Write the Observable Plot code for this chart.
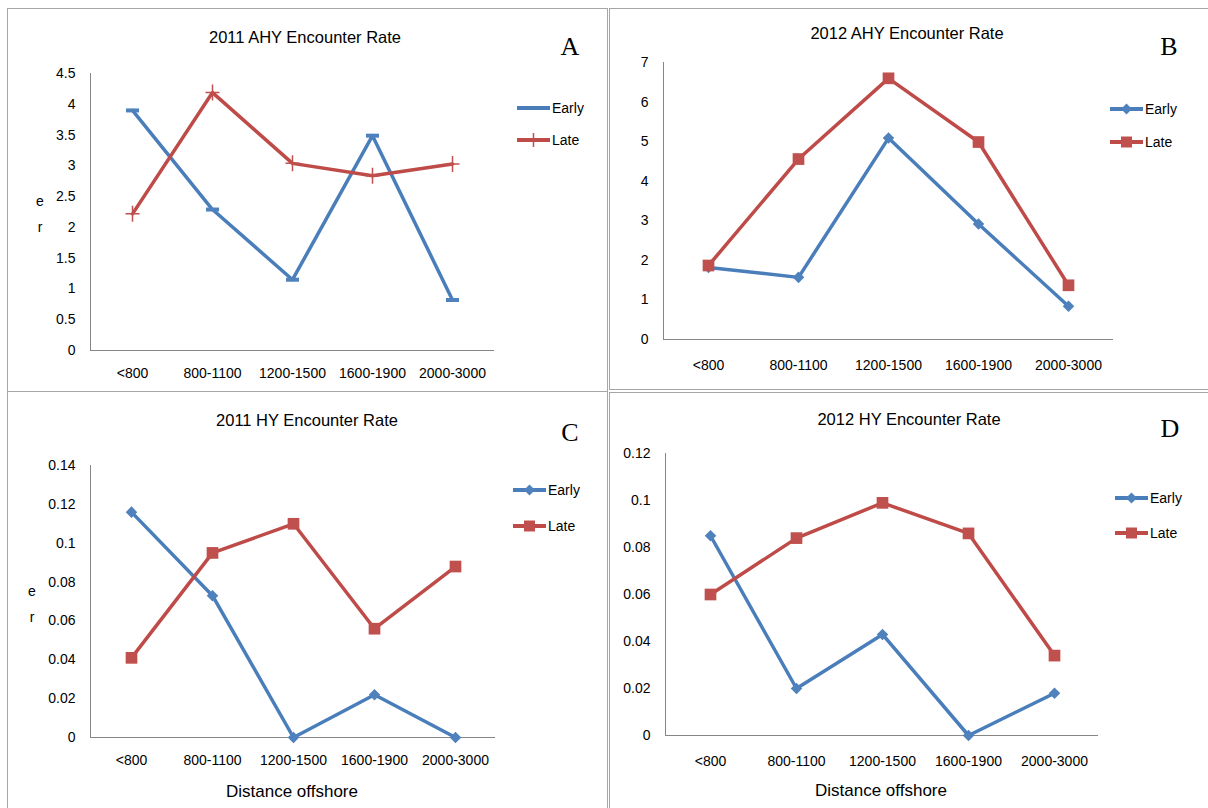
<!DOCTYPE html>
<html><head><meta charset="utf-8">
<script src="https://cdn.jsdelivr.net/npm/d3@7"></script>
<script src="https://cdn.jsdelivr.net/npm/@observablehq/plot@0.6"></script>
<style>
body{margin:0;background:#fff;}
#wrap{position:relative;width:1208px;height:808px;overflow:hidden;font-family:"Liberation Sans",Arial,sans-serif;color:#000;background:#fff;}
.box{position:absolute;border:1px solid #a6a6a6;box-sizing:border-box;z-index:3;}
.abs{position:absolute;white-space:nowrap;line-height:1;z-index:4;}
.c{transform:translate(-50%,-50%);}
.l{transform:translate(0,-50%);}
.plot{position:absolute;z-index:2;}
.leg{position:absolute;z-index:4;}
</style></head><body><div id="wrap"></div>
<script>
// ---- data ----
const categories = ["<800","800-1100","1200-1500","1600-1900","2000-3000"];
const seriesNames = ["Early","Late"];
const aEarly = [3.90,2.29,1.15,3.49,0.82];
const aLate  = [2.22,4.19,3.04,2.84,3.03];
const bEarly = [1.82,1.57,5.09,2.92,0.84];
const bLate  = [1.87,4.56,6.60,4.99,1.37];
const cEarly = [0.116,0.073,0,0.022,0];
const cLate  = [0.041,0.095,0.110,0.056,0.088];
const dEarly = [0.085,0.020,0.043,0,0.018];
const dLate  = [0.060,0.084,0.099,0.086,0.034];
const aTicks = [0,0.5,1,1.5,2,2.5,3,3.5,4,4.5];
const bTicks = [0,1,2,3,4,5,6,7];
const cTicks = [0,0.02,0.04,0.06,0.08,0.1,0.12,0.14];
const dTicks = [0,0.02,0.04,0.06,0.08,0.1,0.12];
const titles = ["2011 AHY Encounter Rate","2012 AHY Encounter Rate","2011 HY Encounter Rate","2012 HY Encounter Rate"];
const letters = ["A","B","C","D"];
const xTitle = "Distance offshore";
const yTitleLetters = ["e","r"];

// ---- styles ----
const BLUE_LINE = "#4a7ebb", BLUE = "#4f81bd";
const RED_LINE = "#be4b48", RED = "#c0504d";
const AXIS = "#868686";
const FONT = '"Liberation Sans", Arial, sans-serif';

const dashSym = {draw(ctx){ ctx.moveTo(-6.5,-2); ctx.lineTo(6.5,-2); ctx.lineTo(6.5,2); ctx.lineTo(-6.5,2); ctx.closePath(); }};
const plusSym = {draw(ctx){ ctx.moveTo(-7,0); ctx.lineTo(7,0); ctx.moveTo(0,-8); ctx.lineTo(0,8); }};

function rows(early, late){
  const out = [];
  categories.forEach((c,i)=>out.push({cat:c, series:seriesNames[0], v:early[i]}));
  categories.forEach((c,i)=>out.push({cat:c, series:seriesNames[1], v:late[i]}));
  return out;
}

const panels = [
  {early:aEarly, late:aLate, ticks:aTicks, max:4.5, style:"A",
   left:0, top:0, width:607, height:391, ml:90, mr:113, mt:73, mb:41, pad:18,
   title:[305,37], letter:[570,47], legX:517, legY:[108,140], er:[40,201,227], xt:null},
  {early:bEarly, late:bLate, ticks:bTicks, max:7, style:"B",
   left:607, top:0, width:601, height:391, ml:56, mr:95, mt:62, mb:52, pad:21,
   title:[907,33], letter:[1169,47], legX:1110, legY:[109,142], er:null, xt:null},
  {early:cEarly, late:cLate, ticks:cTicks, max:0.14, style:"B",
   left:0, top:391, width:607, height:417, ml:90, mr:112, mt:74, mb:71, pad:18,
   title:[307,420], letter:[570,433], legX:513, legY:[490,526], er:[32,591,617], xt:[292,791]},
  {early:dEarly, late:dLate, ticks:dTicks, max:0.12, style:"B",
   left:607, top:391, width:601, height:417, ml:58, mr:110, mt:62, mb:73, pad:21,
   title:[909,419], letter:[1170,429], legX:1115, legY:[498,533], er:null, xt:[881,790]}
];

const wrap = document.getElementById("wrap");
function addText(txt, x, y, css, cls="c"){
  const d = document.createElement("div");
  d.className = "abs " + cls;
  d.textContent = txt;
  d.style.left = x + "px"; d.style.top = y + "px";
  d.style.cssText += css;
  wrap.appendChild(d);
}

// panel borders
[[7,8,601,384],[609,8,610,382],[7,391,601,430],[609,392,610,430]].forEach(([l,t,w,h])=>{
  const b = document.createElement("div"); b.className="box";
  b.style.left=l+"px"; b.style.top=t+"px"; b.style.width=w+"px"; b.style.height=h+"px";
  wrap.appendChild(b);
});

panels.forEach((p, k)=>{
  const data = rows(p.early, p.late);
  const early = data.filter(d=>d.series===seriesNames[0]);
  const late = data.filter(d=>d.series===seriesNames[1]);
  const marks = [
    Plot.frame({anchor:"left", stroke:AXIS, strokeWidth:1}),
    Plot.ruleY([0], {stroke:AXIS, strokeWidth:1}),
    Plot.axisX({tickSize:0, tickPadding:p.pad, fontSize:14, label:null}),
    Plot.axisY({ticks:p.ticks, tickSize:0, tickPadding:15, fontSize:14, label:null, tickFormat:d=>String(d)}),
    Plot.line(early, {x:"cat", y:"v", stroke:BLUE_LINE, strokeWidth:3.5, strokeLinejoin:"round"}),
    Plot.line(late, {x:"cat", y:"v", stroke:RED_LINE, strokeWidth:3.5, strokeLinejoin:"round"})
  ];
  if (p.style === "A"){
    marks.push(Plot.dot(early, {x:"cat", y:"v", symbol:dashSym, r:4, fill:BLUE, stroke:"none"}));
    marks.push(Plot.dot(late, {x:"cat", y:"v", symbol:plusSym, r:4, fill:"none", stroke:RED, strokeWidth:1.5}));
  } else {
    marks.push(Plot.dot(early, {x:"cat", y:"v", symbol:"diamond2", r:5.2, fill:BLUE, stroke:"none"}));
    marks.push(Plot.dot(late, {x:"cat", y:"v", symbol:"square", r:6.6, fill:RED, stroke:"none"}));
  }
  const svg = Plot.plot({
    width:p.width, height:p.height,
    marginLeft:p.ml, marginRight:p.mr, marginTop:p.mt, marginBottom:p.mb,
    x:{type:"point", domain:categories, padding:0.5, label:null},
    y:{domain:[0,p.max], label:null},
    style:{background:"transparent", fontFamily:FONT, fontSize:"14px", color:"#000", overflow:"visible"},
    marks
  });
  svg.classList.add("plot");
  svg.style.left = p.left + "px"; svg.style.top = p.top + "px";
  svg.style.position = "absolute";
  wrap.appendChild(svg);

  addText(titles[k], p.title[0], p.title[1], "font-size:16.5px;");
  addText(letters[k], p.letter[0], p.letter[1], 'font-family:"Liberation Serif","Times New Roman",serif;font-size:26px;');
  if (p.er){
    addText(yTitleLetters[0], p.er[0], p.er[1], "font-size:14px;");
    addText(yTitleLetters[1], p.er[0], p.er[2], "font-size:14px;");
  }
  if (p.xt) addText(xTitle, p.xt[0], p.xt[1], "font-size:17px;");

  // legend
  seriesNames.forEach((name, i)=>{
    const y = p.legY[i];
    const ns = "http://www.w3.org/2000/svg";
    const s = document.createElementNS(ns, "svg");
    s.setAttribute("width", 34); s.setAttribute("height", 20);
    s.setAttribute("class","leg");
    s.style.left = p.legX + "px"; s.style.top = (y - 10) + "px";
    const col = i===0 ? BLUE_LINE : RED_LINE;
    const mcol = i===0 ? BLUE : RED;
    const ln = document.createElementNS(ns, "line");
    ln.setAttribute("x1",0); ln.setAttribute("x2",33); ln.setAttribute("y1",10); ln.setAttribute("y2",10);
    ln.setAttribute("stroke",col); ln.setAttribute("stroke-width",4);
    s.appendChild(ln);
    const pth = document.createElementNS(ns, "path");
    if (p.style === "A"){
      if (i===1){ pth.setAttribute("d","M16.5,3V17"); pth.setAttribute("stroke",mcol); pth.setAttribute("stroke-width",1.5); pth.setAttribute("fill","none"); }
    } else {
      if (i===0) pth.setAttribute("d","M16.5,4.5L22,10L16.5,15.5L11,10Z");
      else pth.setAttribute("d","M11,4.5H22V15.5H11Z");
      pth.setAttribute("fill",mcol);
    }
    s.appendChild(pth);
    wrap.appendChild(s);
    addText(name, p.legX + 35, y, "font-size:14px;", "l");
  });
});
</script></body></html>
